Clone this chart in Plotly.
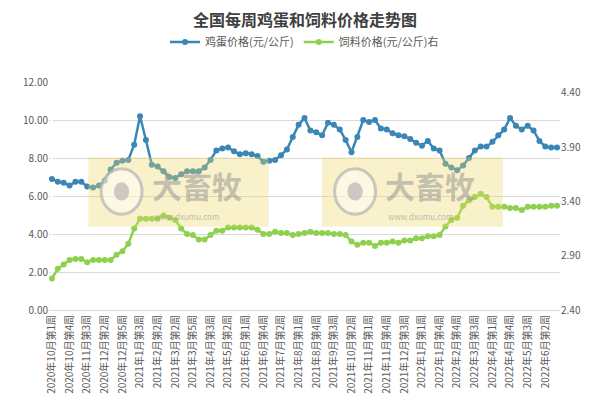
import plotly.graph_objects as go

# 鸡蛋价格 (元/公斤), weekly
egg = [6.9, 6.75, 6.7, 6.55, 6.75, 6.75, 6.5, 6.45, 6.55, 6.8,
       7.4, 7.75, 7.85, 7.9, 8.7, 10.2, 8.95, 7.65, 7.55, 7.3,
       7.0, 6.95, 7.15, 7.3, 7.3, 7.3, 7.5, 7.9, 8.4, 8.5,
       8.55, 8.35, 8.2, 8.25, 8.2, 8.1, 7.8, 7.85, 7.9, 8.15,
       8.45, 9.1, 9.75, 10.1, 9.45, 9.35, 9.2, 9.85, 9.75, 9.5,
       8.95, 8.3, 9.1, 10.0, 9.9, 10.0, 9.55, 9.5, 9.3, 9.2,
       9.15, 9.0, 8.8, 8.65, 8.9, 8.5, 8.4, 7.7, 7.5, 7.35,
       7.6, 8.0, 8.4, 8.6, 8.6, 8.85, 9.2, 9.5, 10.1, 9.7,
       9.5, 9.7, 9.45, 8.9, 8.6, 8.55, 8.55]

# 饲料价格 (元/公斤), weekly, right axis
feed = [2.69, 2.78, 2.82, 2.86, 2.87, 2.87, 2.84, 2.86, 2.86, 2.86,
        2.86, 2.91, 2.94, 3.01, 3.15, 3.24, 3.24, 3.24, 3.24, 3.27,
        3.25, 3.23, 3.15, 3.10, 3.09, 3.05, 3.05, 3.09, 3.13, 3.13,
        3.16, 3.16, 3.16, 3.16, 3.16, 3.14, 3.10, 3.10, 3.12, 3.11,
        3.11, 3.09, 3.10, 3.11, 3.12, 3.11, 3.11, 3.11, 3.10, 3.10,
        3.09, 3.03, 3.00, 3.02, 3.02, 2.99, 3.02, 3.02, 3.03, 3.02,
        3.04, 3.04, 3.06, 3.06, 3.08, 3.08, 3.09, 3.17, 3.23, 3.25,
        3.36, 3.41, 3.44, 3.47, 3.44, 3.35, 3.35, 3.35, 3.34, 3.34,
        3.32, 3.35, 3.35, 3.35, 3.35, 3.36, 3.36]

# every third week is labelled
tick_labels = ["2020年10月第1周", "2020年10月第4周", "2020年11月第3周", "2020年12月第2周",
               "2020年12月第5周", "2021年1月第3周", "2021年2月第2周", "2021年3月第2周",
               "2021年3月第5周", "2021年4月第3周", "2021年5月第2周", "2021年6月第1周",
               "2021年6月第4周", "2021年7月第2周", "2021年8月第1周", "2021年8月第4周",
               "2021年9月第3周", "2021年10月第2周", "2021年11月第1周", "2021年11月第4周",
               "2021年12月第3周", "2022年1月第1周", "2022年1月第4周", "2022年2月第4周",
               "2022年3月第3周", "2022年4月第1周", "2022年4月第4周", "2022年5月第3周",
               "2022年6月第2周"]

x = list(range(len(egg)))
FONT = "Noto Sans CJK SC"

fig = go.Figure()
fig.add_trace(go.Scatter(x=x, y=egg, name="鸡蛋价格(元/公斤)", mode="lines+markers",
                         line=dict(color="#3a87b5", width=2.5),
                         marker=dict(size=6, color="#3a87b5")))
fig.add_trace(go.Scatter(x=x, y=feed, name="饲料价格(元/公斤)右", mode="lines+markers", yaxis="y2",
                         line=dict(color="#8fd14f", width=2.5),
                         marker=dict(size=6, color="#8fd14f")))

# 大畜牧 watermarks
shapes = []
annotations = []
for x0, x1 in [(0.077, 0.43), (0.534, 0.888)]:
    shapes.append(dict(type="rect", xref="paper", yref="paper", x0=x0, x1=x1, y0=0.365, y1=0.67,
                       fillcolor="rgba(235,215,100,0.35)", line=dict(width=0), layer="above"))
    shapes.append(dict(type="circle", xref="paper", yref="paper", x0=x0 + 0.025, x1=x0 + 0.105,
                       y0=0.42, y1=0.62, line=dict(color="rgba(180,180,180,0.7)", width=3),
                       fillcolor="rgba(255,255,255,0.5)", layer="above"))
    shapes.append(dict(type="circle", xref="paper", yref="paper", x0=x0 + 0.05, x1=x0 + 0.08,
                       y0=0.48, y1=0.56, line=dict(width=0),
                       fillcolor="rgba(170,170,170,0.6)", layer="above"))
    annotations.append(dict(x=x0 + 0.12, y=0.55, xref="paper", yref="paper", xanchor="left", showarrow=False,
                            text="<b>大畜牧</b>", font=dict(size=30, color="rgba(150,150,150,0.55)", family=FONT)))
    annotations.append(dict(x=x0 + 0.125, y=0.41, xref="paper", yref="paper", xanchor="left", showarrow=False,
                            text="www.dxumu.com", font=dict(size=8, color="rgba(150,150,150,0.6)", family=FONT)))

# the page body adds an 8px margin, so the figure is 8px smaller than the window
fig.update_layout(
    width=594, height=406,
    paper_bgcolor="white", plot_bgcolor="white",
    font=dict(family=FONT, color="#595959", size=11),
    title=dict(text="<b>全国每周鸡蛋和饲料价格走势图</b>", x=0.5, y=0.97, xanchor="center", yanchor="middle",
               font=dict(size=16, color="#404040", family=FONT)),
    legend=dict(orientation="h", x=0.5, xanchor="center", y=1.175, yanchor="middle",
                font=dict(size=11, color="#595959")),
    margin=dict(l=41, r=42, t=74, b=104, autoexpand=False),
    xaxis=dict(range=[-0.5, len(egg) - 0.5], tickmode="array", tickvals=x[::3], ticktext=tick_labels,
               tickangle=-90, tickfont=dict(size=10), showgrid=False, showline=True,
               linecolor="#d9d9d9", ticks="", automargin=False),
    yaxis=dict(range=[0, 12], dtick=2, tickformat=".2f", gridcolor="#d9d9d9", zeroline=False,
               tickfont=dict(size=10), automargin=False),
    yaxis2=dict(range=[2.4, 4.5], tick0=2.4, dtick=0.5, tickformat=".2f", overlaying="y",
                side="right", showgrid=False, zeroline=False, tickfont=dict(size=10), automargin=False),
    shapes=shapes, annotations=annotations,
)

fig.write_html("out.html")
